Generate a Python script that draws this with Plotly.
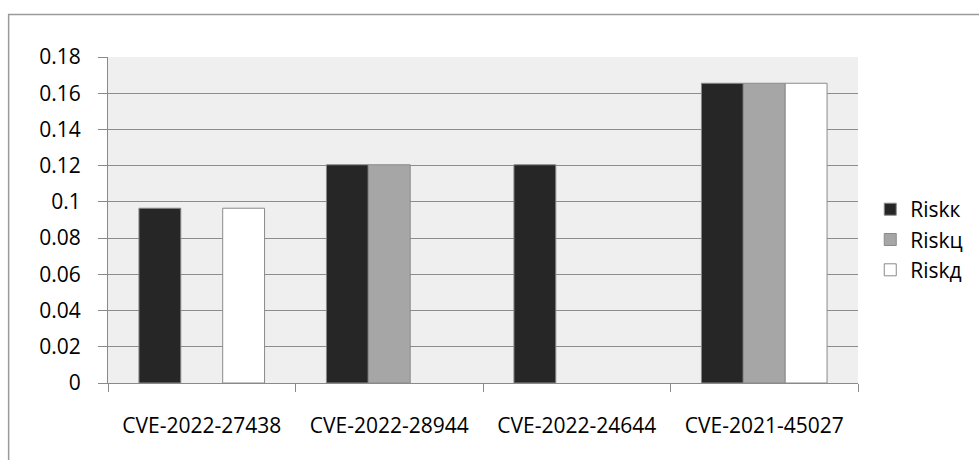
import plotly.graph_objects as go

categories = ["CVE-2022-27438", "CVE-2022-28944", "CVE-2022-24644", "CVE-2021-45027"]
risk_k = [0.0965, 0.1205, 0.1205, 0.1655]
risk_ts = [None, 0.1205, None, 0.1655]
risk_d = [0.0965, None, None, 0.1655]
y_ticks = [0, 0.02, 0.04, 0.06, 0.08, 0.1, 0.12, 0.14, 0.16, 0.18]
y_tick_text = ["0", "0.02", "0.04", "0.06", "0.08", "0.1", "0.12", "0.14", "0.16", "0.18"]

W, H = 979, 460
L, R, T, B = 108, 120, 57, 77
pw, ph = W - L - R, H - T - B

font = "Open Sans, Noto Sans, sans-serif"
edge = dict(color="#8a8a8a", width=1)

fig = go.Figure()
for name, vals, color in [("Riskк", risk_k, "#262626"),
                          ("Riskц", risk_ts, "#a6a6a6"),
                          ("Riskд", risk_d, "#ffffff")]:
    fig.add_trace(go.Bar(x=categories, y=vals, name=name,
                         marker=dict(color=color, line=edge)))

# outer chart frame
fig.add_shape(type="rect", xref="paper", yref="paper",
              x0=(8.5 - L) / pw, x1=(W + 10 - L) / pw,
              y0=(H - B - (H + 10)) / ph, y1=(H - B - 14.5) / ph,
              line=dict(color="#9a9a9a", width=1.5), fillcolor="rgba(0,0,0,0)",
              layer="below")

fig.update_layout(
    width=W, height=H,
    margin=dict(l=L, r=R, t=T, b=B, pad=0),
    paper_bgcolor="white", plot_bgcolor="#efefef",
    barmode="group", bargap=0.33, bargroupgap=0,
    font=dict(family=font, size=21, color="black"),
    showlegend=True,
    legend=dict(x=1.015, y=0.44, xanchor="left", yanchor="middle",
                font=dict(family=font, size=21, color="black"),
                tracegroupgap=0, itemwidth=30, bgcolor="rgba(0,0,0,0)"),
    xaxis=dict(type="category", showgrid=False, showline=True, linecolor="#8a8a8a",
               linewidth=1, ticks="outside", tickson="boundaries", ticklen=8,
               tickcolor="#8a8a8a", tickfont=dict(size=21), ticklabelstandoff=24),
    yaxis=dict(range=[0, 0.18], tickvals=y_ticks, ticktext=y_tick_text,
               showgrid=True, gridcolor="#8c8c8c", gridwidth=1,
               showline=True, linecolor="#8a8a8a", linewidth=1,
               ticks="outside", ticklen=9, tickcolor="#8a8a8a",
               tickfont=dict(size=21), zeroline=False, ticklabelstandoff=13),
)

fig.write_html("out.html")
